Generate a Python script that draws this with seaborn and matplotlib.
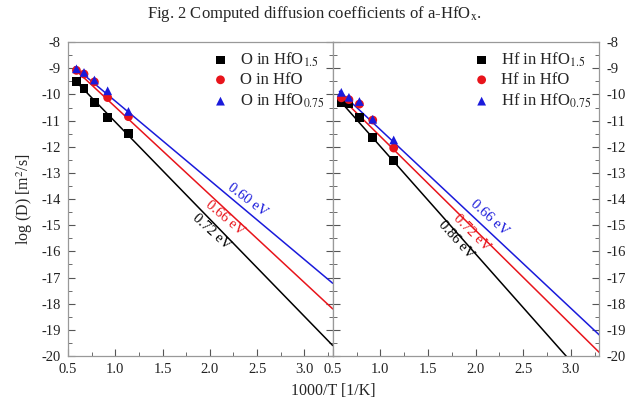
import numpy as np
import pandas as pd
import seaborn as sns
import matplotlib.pyplot as plt
from matplotlib.ticker import MultipleLocator

# 1000/T positions of the computed points
inv_t = [0.59, 0.67, 0.78, 0.92, 1.14]

# O diffusion, log10 D
o_hfo15 = [-9.52, -9.78, -10.32, -10.88, -11.48]
o_hfo = [-9.08, -9.22, -9.52, -10.12, -10.85]
o_hfo075 = [-9.02, -9.16, -9.45, -9.86, -10.65]

# Hf diffusion, log10 D
hf_hfo15 = [-10.32, -10.35, -10.89, -11.66, -12.54]
hf_hfo = [-10.13, -10.20, -10.37, -10.98, -12.05]
hf_hfo075 = [-9.92, -10.11, -10.27, -10.95, -11.74]

# Arrhenius fit lines (start / end values)
fit_x = [0.57, 3.3]
o_fit15 = [-9.45, -19.60]
o_fit = [-9.03, -18.20]
o_fit075 = [-8.95, -17.22]
hf_fit15 = [-10.22, -21.44]
hf_fit = [-10.06, -19.87]
hf_fit075 = [-9.88, -19.20]

o_ea = ['0.72 eV', '0.66 eV', '0.60 eV']
hf_ea = ['0.86 eV', '0.72 eV', '0.66 eV']

colors = ['black', '#e8141b', '#1a1adb']
markers = ['s', 'o', '^']

sns.set_style('ticks')
plt.rcParams['font.family'] = ['Liberation Serif', 'DejaVu Serif']
plt.rcParams['mathtext.fontset'] = 'stix'

fig = plt.figure(figsize=(6.29, 4.05), dpi=100)
ax1 = fig.add_axes([0.108, 0.121, 0.421, 0.775])
ax2 = fig.add_axes([0.529, 0.121, 0.424, 0.775])


def draw_panel(ax, species, pts, fits, eas, label_pos, rots):
    names = [species + ' in HfO$_{1.5}$', species + ' in HfO', species + ' in HfO$_{0.75}$']
    for i in range(3):
        fit_df = pd.DataFrame({'x': fit_x, 'y': fits[i]})
        sns.lineplot(data=fit_df, x='x', y='y', color=colors[i], lw=1.1, ax=ax)
    for i in range(3):
        df = pd.DataFrame({'x': inv_t, 'y': pts[i]})
        sns.scatterplot(data=df, x='x', y='y', color=colors[i], marker=markers[i],
                        s=40, edgecolor='none', label=names[i], ax=ax, zorder=5)
    for i in range(3):
        ax.text(label_pos[i][0], label_pos[i][1], eas[i], color=colors[i], fontsize=10.5,
                rotation=rots[i], ha='center', va='center', rotation_mode='anchor')

    ax.set_xlim(0.5, 3.3)
    ax.set_ylim(-20, -8)
    ax.xaxis.set_major_locator(MultipleLocator(0.5))
    ax.xaxis.set_minor_locator(MultipleLocator(0.25))
    ax.yaxis.set_major_locator(MultipleLocator(1))
    ax.yaxis.set_minor_locator(MultipleLocator(0.5))
    ax.xaxis.set_major_formatter(lambda v, p: '' if v > 3.05 else f'{v:.1f}')
    ax.yaxis.set_major_formatter(lambda v, p: f'{v:.0f}')
    ax.tick_params(which='both', direction='in', colors='#555555', labelcolor='#222222',
                   left=True, right=True, top=False, labelsize=10.5, pad=5)
    ax.tick_params(which='major', length=5)
    ax.tick_params(which='minor', length=3)
    for s in ax.spines.values():
        s.set_color('#999999')
        s.set_linewidth(0.9)
    ax.set_xlabel('')
    ax.set_ylabel('')
    ax.legend(loc='upper right', frameon=False, fontsize=12, handletextpad=0.15,
              borderaxespad=0.1, labelspacing=0.2, markerscale=1.0,
              bbox_to_anchor=(1.0, 1.0))


draw_panel(ax1, 'O', [o_hfo15, o_hfo, o_hfo075], [o_fit15, o_fit, o_fit075], o_ea,
           [(2.02, -15.26), (2.16, -14.73), (2.40, -14.04)], [-42, -40, -37])
draw_panel(ax2, 'Hf', [hf_hfo15, hf_hfo, hf_hfo075], [hf_fit15, hf_fit, hf_fit075], hf_ea,
           [(1.80, -15.57), (1.96, -15.30), (2.15, -14.73)], [-48, -45, -42])

ax1.tick_params(labelleft=True, labelright=False)
ax2.tick_params(labelleft=False, labelright=True)

ax1.set_ylabel('log (D) [m$^2$/s]', fontsize=11.5, labelpad=5)
fig.text(0.53, 0.025, '1000/T [1/K]', ha='center', fontsize=11.5)
fig.text(0.50, 0.955, 'Fig. 2 Computed diffusion coefficients of a-HfO$_\\mathrm{x}$.',
         ha='center', fontsize=12)

fig.savefig('out.png', dpi=100, facecolor='white')
